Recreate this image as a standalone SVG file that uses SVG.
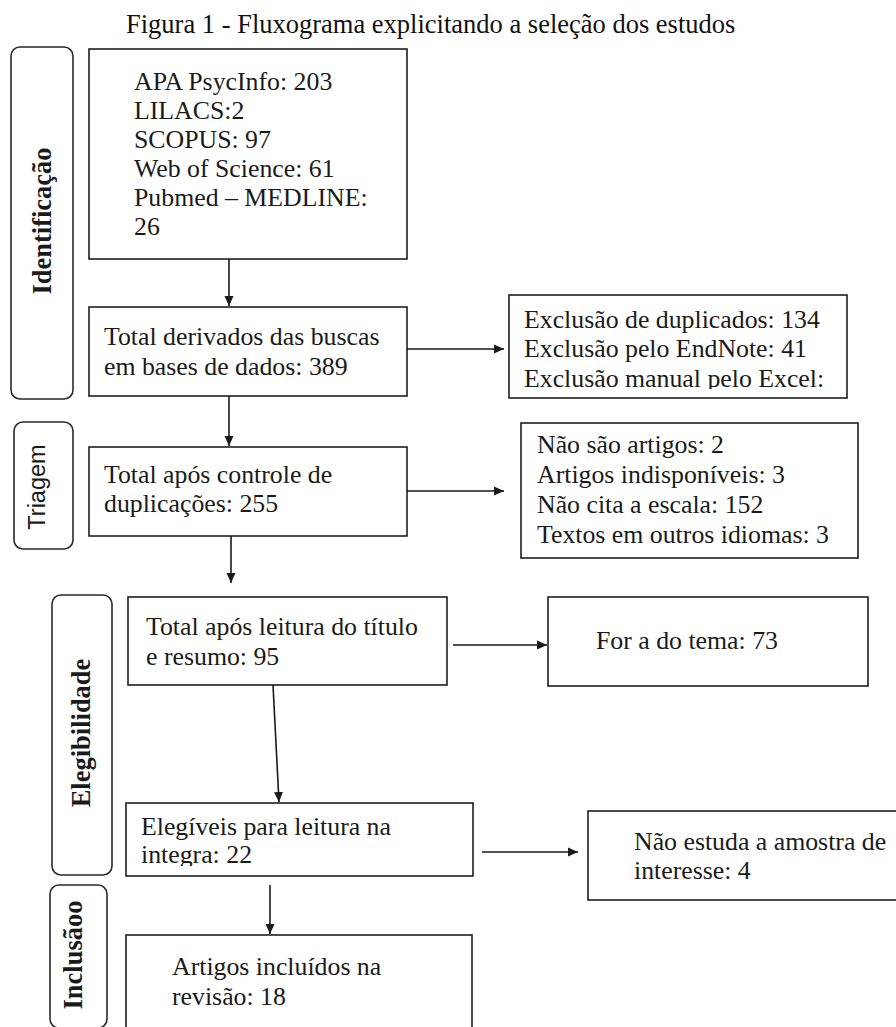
<svg xmlns="http://www.w3.org/2000/svg" width="896" height="1027" viewBox="0 0 896 1027">
<style>
  .bg{fill:#fff}
  .box{fill:#fff;stroke:#1e1e1e;stroke-width:1.6}
  .lab{fill:#fff;stroke:#2a2a2a;stroke-width:1.6}
  .t{font-family:"Liberation Serif","Times New Roman",serif;font-size:25.8px;fill:#1a1a1a}
  .title{font-family:"Liberation Serif","Times New Roman",serif;font-size:26.5px;fill:#111}
  .lb{font-family:"Liberation Serif","Times New Roman",serif;font-size:26.5px;font-weight:bold;fill:#1a1a1a;text-anchor:middle}
  .ls{font-family:"Liberation Sans",Arial,sans-serif;font-size:23.5px;fill:#1a1a1a;text-anchor:middle}
  .c{stroke:#1a1a1a;stroke-width:1.6;fill:none;marker-end:url(#ah)}
</style>
<defs>
  <marker id="ah" viewBox="0 0 10 10" refX="10" refY="5" markerWidth="10" markerHeight="10" markerUnits="userSpaceOnUse" orient="auto">
    <path d="M0,0.5 L10,5 L0,9.5 Z" fill="#1a1a1a"/>
  </marker>
  <clipPath id="clipEx"><rect x="509" y="295" width="338" height="94"/></clipPath>
  <clipPath id="clipEl"><rect x="126" y="803" width="347" height="63"/></clipPath>
</defs>
<rect class="bg" x="0" y="0" width="896" height="1027"/>

<text class="title" x="126" y="33">Figura 1 - Fluxograma explicitando a seleção dos estudos</text>

<g id="label-identificacao">
  <rect class="lab" x="11" y="47" width="62" height="352" rx="9"/>
  <text class="lb" transform="translate(51,221) rotate(-90)">Identificação</text>
</g>
<g id="label-triagem">
  <rect class="lab" x="14" y="422" width="59" height="127" rx="9"/>
  <text class="ls" transform="translate(45,487) rotate(-90)">Triagem</text>
</g>
<g id="label-elegibilidade">
  <rect class="lab" x="52" y="595" width="60" height="280" rx="9"/>
  <text class="lb" transform="translate(90,733) rotate(-90)">Elegibilidade</text>
</g>
<g id="label-inclusao">
  <rect class="lab" x="50" y="885" width="57" height="143" rx="9"/>
  <text class="lb" transform="translate(82,955) rotate(-90)">Inclusãoo</text>
</g>

<g id="n-bases">
  <rect class="box" x="89" y="49" width="318" height="210"/>
  <text class="t" x="134" y="90">APA PsycInfo: 203</text>
  <text class="t" x="134" y="119">LILACS:2</text>
  <text class="t" x="134" y="148">SCOPUS: 97</text>
  <text class="t" x="134" y="177">Web of Science: 61</text>
  <text class="t" x="134" y="206">Pubmed – MEDLINE:</text>
  <text class="t" x="134" y="235">26</text>
</g>

<g id="n-total-derivados">
  <rect class="box" x="89" y="307" width="318" height="89"/>
  <text class="t" x="104" y="345">Total derivados das buscas</text>
  <text class="t" x="104" y="375">em bases de dados: 389</text>
</g>

<g id="n-exclusao">
  <rect class="box" x="509" y="295" width="338" height="103"/>
  <g clip-path="url(#clipEx)">
    <text class="t" x="524" y="328">Exclusão de duplicados: 134</text>
    <text class="t" x="524" y="357">Exclusão pelo EndNote: 41</text>
    <text class="t" x="524" y="387">Exclusão manual pelo Excel:</text>
  </g>
</g>

<g id="n-total-apos">
  <rect class="box" x="89" y="447" width="318" height="89"/>
  <text class="t" x="104" y="483">Total após controle de</text>
  <text class="t" x="104" y="512">duplicações: 255</text>
</g>

<g id="n-triagem-excl">
  <rect class="box" x="521" y="423" width="337" height="135"/>
  <text class="t" x="537" y="453">Não são artigos: 2</text>
  <text class="t" x="537" y="483">Artigos indisponíveis: 3</text>
  <text class="t" x="537" y="513">Não cita a escala: 152</text>
  <text class="t" x="537" y="543">Textos em outros idiomas: 3</text>
</g>

<g id="n-titulo-resumo">
  <rect class="box" x="128" y="597" width="319" height="88"/>
  <text class="t" x="146" y="635">Total após leitura do título</text>
  <text class="t" x="146" y="665">e resumo: 95</text>
</g>

<g id="n-fora-tema">
  <rect class="box" x="548" y="597" width="320" height="89"/>
  <text class="t" x="596" y="649">For a do tema: 73</text>
</g>

<g id="n-elegiveis">
  <rect class="box" x="126" y="803" width="347" height="73"/>
  <g clip-path="url(#clipEl)">
    <text class="t" x="141" y="835">Elegíveis para leitura na</text>
    <text class="t" x="141" y="863">integra: 22</text>
  </g>
</g>

<g id="n-nao-estuda">
  <rect class="box" x="588" y="811" width="320" height="89"/>
  <text class="t" x="634" y="850">Não estuda a amostra de</text>
  <text class="t" x="634" y="879">interesse: 4</text>
</g>

<g id="n-incluidos">
  <rect class="box" x="126" y="935" width="346" height="100"/>
  <text class="t" x="172" y="975">Artigos incluídos na</text>
  <text class="t" x="172" y="1005">revisão: 18</text>
</g>

<g id="connectors">
  <line class="c" x1="229" y1="259" x2="229" y2="306"/>
  <line class="c" x1="407" y1="349" x2="504" y2="349"/>
  <line class="c" x1="229" y1="396" x2="229" y2="446"/>
  <line class="c" x1="407" y1="491" x2="504" y2="491"/>
  <line class="c" x1="231" y1="536" x2="231" y2="583"/>
  <line class="c" x1="453" y1="645" x2="547" y2="645"/>
  <line class="c" x1="273" y1="685" x2="279" y2="802"/>
  <line class="c" x1="482" y1="852" x2="578" y2="852"/>
  <line class="c" x1="270" y1="885" x2="270" y2="934"/>
</g>
</svg>
